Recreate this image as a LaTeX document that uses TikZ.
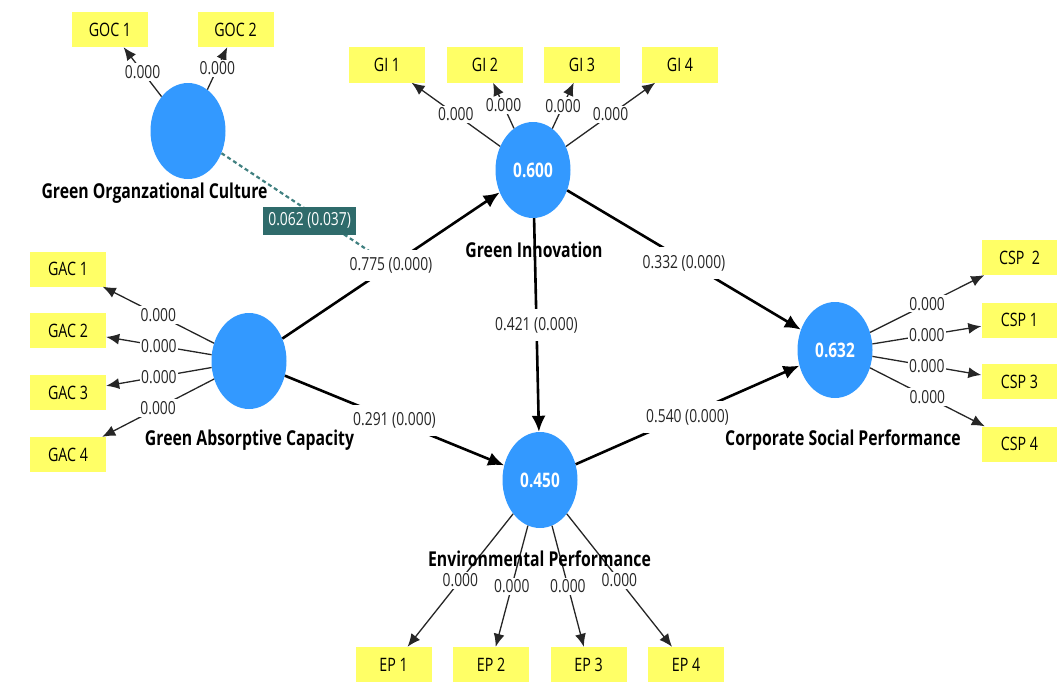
\documentclass[tikz,border=0pt]{standalone}
\usepackage{fontspec}
\setmainfont{Open Sans}[FakeStretch=0.77]
\usetikzlibrary{arrows.meta,shapes.geometric}
\definecolor{lvblue}{RGB}{51,153,255}
\definecolor{indyel}{RGB}{255,255,102}
\definecolor{modteal}{RGB}{47,107,107}
\definecolor{moddash}{RGB}{64,128,128}
\tikzset{
  lv/.style={ellipse, fill=lvblue, minimum width=75pt, minimum height=96pt, inner sep=0pt, text=white, font=\bfseries\fontsize{20}{22}\selectfont},
  ind/.style={rectangle, fill=indyel, minimum width=76pt, minimum height=35pt, inner sep=0pt, font=\fontsize{18.5}{20}\selectfont},
  lvname/.style={font=\bfseries\fontsize{20.5}{22}\selectfont, inner sep=0pt},
  loading/.style={draw=black!85, line width=1.3pt, -{Latex[length=13pt,width=11pt]}},
  lcoef/.style={fill=white, inner xsep=1.5pt, inner ysep=2pt, font=\fontsize{18}{20}\selectfont, text=black!85},
  structural/.style={draw=black, line width=2.6pt, -{Latex[length=16pt,width=14pt]}},
  pcoef/.style={fill=white, inner xsep=2pt, inner ysep=8pt, font=\fontsize{18}{20}\selectfont, text=black!85},
  modline/.style={draw=moddash, line width=2.2pt, dash pattern=on 4pt off 3pt},
  modbox/.style={fill=modteal, text=white, inner xsep=5pt, inner ysep=6pt, font=\fontsize{18}{20}\selectfont}
}
\begin{document}
\begin{tikzpicture}[x=1pt,y=-1pt]
\useasboundingbox (0,0) rectangle (1057,693);
% latent variables
\node[lv] (goc) at (188,131) {};
\node[lv] (gi) at (533,170) {0.600};
\node[lv] (gac) at (249,361) {};
\node[lv] (ep) at (540,480) {0.450};
\node[lv] (csp) at (835,350) {0.632};
% indicators
\node[ind] (goc1) at (110,29.5) {GOC 1};
\node[ind] (goc2) at (235.5,29.5) {GOC 2};
\node[ind] (gi1) at (387,65) {GI 1};
\node[ind] (gi2) at (485,65) {GI 2};
\node[ind] (gi3) at (582,65) {GI 3};
\node[ind] (gi4) at (680,65) {GI 4};
\node[ind] (gac1) at (68,269) {GAC 1};
\node[ind] (gac2) at (68,330.5) {GAC 2};
\node[ind] (gac3) at (68,392.5) {GAC 3};
\node[ind] (gac4) at (68,454.5) {GAC 4};
\node[ind] (csp2) at (1019.5,257.5) {CSP~~2};
\node[ind] (csp1) at (1019.5,320) {CSP 1};
\node[ind] (csp3) at (1019.5,381.5) {CSP 3};
\node[ind] (csp4) at (1019.5,444) {CSP 4};
\node[ind] (ep1) at (393.5,664.5) {EP 1};
\node[ind] (ep2) at (491,664.5) {EP 2};
\node[ind] (ep3) at (588.5,664.5) {EP 3};
\node[ind] (ep4) at (686,664.5) {EP 4};
% loadings
\draw[loading] (goc) -- (goc1) node[lcoef,pos=0.5] {0.000};
\draw[loading] (goc) -- (goc2) node[lcoef,pos=0.5] {0.000};
\draw[loading] (gi) -- (gi1) node[lcoef,pos=0.5] {0.000};
\draw[loading] (gi) -- (gi2) node[lcoef,pos=0.5] {0.000};
\draw[loading] (gi) -- (gi3) node[lcoef,pos=0.5] {0.000};
\draw[loading] (gi) -- (gi4) node[lcoef,pos=0.5] {0.000};
\draw[loading] (gac) -- (gac1) node[lcoef,pos=0.5] {0.000};
\draw[loading] (gac) -- (gac2) node[lcoef,pos=0.5] {0.000};
\draw[loading] (gac) -- (gac3) node[lcoef,pos=0.5] {0.000};
\draw[loading] (gac) -- (gac4) node[lcoef,pos=0.5] {0.000};
\draw[loading] (csp) -- (csp2) node[lcoef,pos=0.5] {0.000};
\draw[loading] (csp) -- (csp1) node[lcoef,pos=0.5] {0.000};
\draw[loading] (csp) -- (csp3) node[lcoef,pos=0.5] {0.000};
\draw[loading] (csp) -- (csp4) node[lcoef,pos=0.5] {0.000};
\draw[loading] (ep) -- (ep1) node[lcoef,pos=0.5] {0.000};
\draw[loading] (ep) -- (ep2) node[lcoef,pos=0.5] {0.000};
\draw[loading] (ep) -- (ep3) node[lcoef,pos=0.5] {0.000};
\draw[loading] (ep) -- (ep4) node[lcoef,pos=0.5] {0.000};
% moderating effect
\path (gac) -- (gi) coordinate[pos=0.5] (modpt);
\draw[modline] (goc) -- (modpt) node[modbox,pos=0.52,yshift=-9pt] (modlab) {0.062 (0.037)};
% structural paths
\draw[structural] (gac) -- (gi) node[pcoef,pos=0.5] {0.775 (0.000)};
\draw[structural] (gac) -- (ep) node[pcoef,pos=0.5] {0.291 (0.000)};
\draw[structural] (gi) -- (csp) node[pcoef,pos=0.5,yshift=-3pt] {0.332 (0.000)};
\draw[structural] (gi) -- (ep) node[pcoef,pos=0.5] {0.421 (0.000)};
\draw[structural] (ep) -- (csp) node[pcoef,pos=0.5,yshift=-2pt] {0.540 (0.000)};
% names
\node[lvname] (gocname) at (154.5,193) {Green Organzational Culture};
\node[lvname] (giname) at (534,250) {Green Innovation};
\node[lvname] (gacname) at (249.5,440) {Green Absorptive Capacity};
\node[lvname] (cspname) at (843,440) {Corporate Social Performance};
\node[lvname] (epname) at (539.5,559) {Environmental Performance};
\end{tikzpicture}
\end{document}
